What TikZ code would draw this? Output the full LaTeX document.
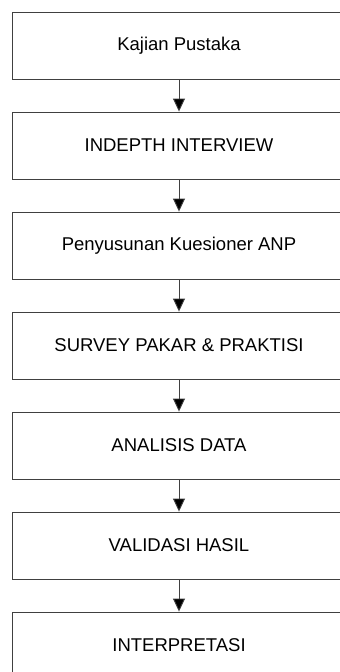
\documentclass[tikz,border=0pt]{standalone}
\usepackage{fontspec}
\setmainfont{Liberation Sans}
\usetikzlibrary{arrows.meta}
\begin{document}
\begin{tikzpicture}[x=1pt,y=1pt,
  stepbox/.style={draw=black!75, line width=0.9pt, minimum width=334pt,
    minimum height=67pt, inner sep=0pt, font=\fontsize{18.5}{22}\selectfont},
  flow/.style={draw=black!75, line width=0.9pt,
    -{Triangle[width=12pt,length=13pt,fill=black]}}]
  \useasboundingbox (0,0) rectangle (340,-672);
  \clip (0,0) rectangle (340,-672);
  \node[stepbox] (b1) at (179,-45.5) {Kajian Pustaka};
  \node[stepbox] (b2) at (179,-145.5) {INDEPTH INTERVIEW};
  \node[stepbox] (b3) at (179,-245.5) {Penyusunan Kuesioner ANP};
  \node[stepbox] (b4) at (179,-345.5) {SURVEY PAKAR \& PRAKTISI};
  \node[stepbox] (b5) at (179,-445.5) {ANALISIS DATA};
  \node[stepbox] (b6) at (179,-545.5) {VALIDASI HASIL};
  \node[stepbox] (b7) at (179,-645.5) {INTERPRETASI};
  \foreach \a/\b in {b1/b2,b2/b3,b3/b4,b4/b5,b5/b6,b6/b7}
    \draw[flow] (\a.south) -- (\b.north);
\end{tikzpicture}
\end{document}
